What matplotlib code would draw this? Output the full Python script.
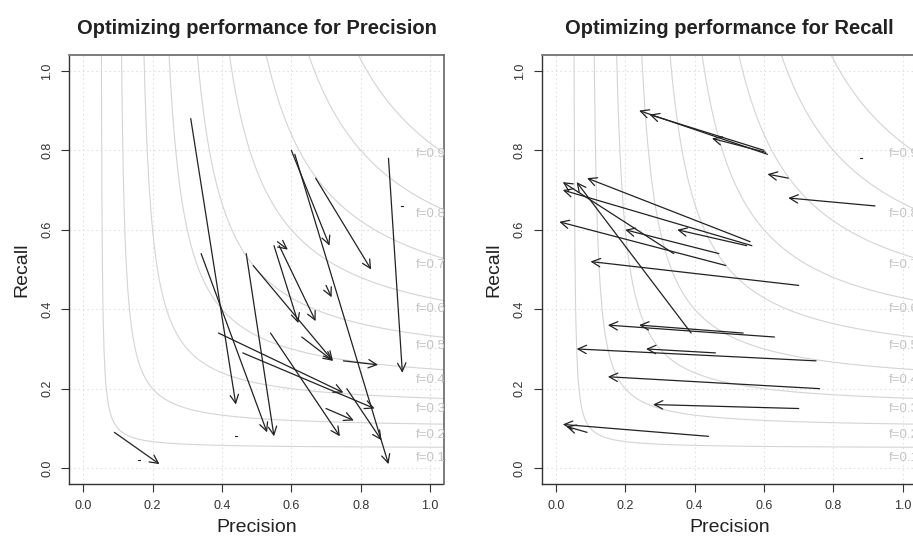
import numpy as np
import matplotlib
matplotlib.use("Agg")
import matplotlib.pyplot as plt

plt.rcParams['font.family'] = ['Liberation Sans', 'DejaVu Sans']

# arrows: start (precision, recall) -> end (precision, recall)
prec_x0 = [0.09, 0.16, 0.31, 0.34, 0.47, 0.49, 0.55, 0.56, 0.565, 0.60, 0.61, 0.67,
           0.88, 0.39, 0.46, 0.54, 0.63, 0.75, 0.70, 0.76, 0.44, 0.92, 0.70]
prec_y0 = [0.09, 0.02, 0.88, 0.54, 0.54, 0.51, 0.56, 0.57, 0.56, 0.80, 0.79, 0.73,
           0.78, 0.34, 0.29, 0.34, 0.33, 0.27, 0.15, 0.20, 0.08, 0.66, 0.46]
prec_x1 = [0.22, 0.16, 0.44, 0.53, 0.55, 0.72, 0.62, 0.59, 0.67, 0.71, 0.88, 0.83,
           0.92, 0.75, 0.84, 0.74, 0.72, 0.85, 0.78, 0.86, 0.44, 0.92, 0.716]
prec_y1 = [0.01, 0.02, 0.16, 0.09, 0.08, 0.27, 0.365, 0.55, 0.37, 0.56, 0.01, 0.50,
           0.24, 0.19, 0.15, 0.08, 0.27, 0.26, 0.12, 0.07, 0.08, 0.66, 0.43]

rec_x0 = [0.61, 0.60, 0.605, 0.67, 0.92, 0.88, 0.56, 0.565, 0.55, 0.34, 0.39, 0.49,
          0.47, 0.70, 0.63, 0.54, 0.75, 0.46, 0.76, 0.70, 0.44, 0.09]
rec_y0 = [0.79, 0.80, 0.795, 0.73, 0.66, 0.78, 0.57, 0.56, 0.56, 0.54, 0.34, 0.51,
          0.54, 0.46, 0.33, 0.34, 0.27, 0.29, 0.20, 0.15, 0.08, 0.09]
rec_x1 = [0.24, 0.27, 0.45, 0.61, 0.67, 0.88, 0.09, 0.02, 0.35, 0.02, 0.06, 0.01,
          0.20, 0.10, 0.15, 0.24, 0.06, 0.26, 0.15, 0.28, 0.02, 0.03]
rec_y1 = [0.90, 0.89, 0.83, 0.74, 0.68, 0.78, 0.73, 0.70, 0.60, 0.72, 0.72, 0.62,
          0.60, 0.52, 0.36, 0.36, 0.30, 0.30, 0.23, 0.16, 0.11, 0.105]

f_levels = [0.1, 0.2, 0.3, 0.4, 0.5, 0.6, 0.7, 0.8, 0.9]
ticks = [0.0, 0.2, 0.4, 0.6, 0.8, 1.0]

fig = plt.figure(figsize=(9.13, 5.37), dpi=100)
ax1 = fig.add_axes([0.0759, 0.0987, 0.4104, 0.7989])
# right panel runs past the right edge of the image, as in the original
ax2 = fig.add_axes([0.5936, 0.0987, 0.4104, 0.7989])


def draw_panel(ax, x0, y0, x1, y1, title):
    ax.set_xlim(-0.04, 1.04)
    ax.set_ylim(-0.04, 1.04)
    for t in ticks:
        ax.axvline(t, color='#e2e2e2', lw=0.8, ls=(0, (1.5, 2.5)), zorder=0)
        ax.axhline(t, color='#e2e2e2', lw=0.8, ls=(0, (1.5, 2.5)), zorder=0)
    for f in f_levels:
        p = np.linspace(f / 2 + 1e-4, 1.05, 800)
        r = f * p / (2 * p - f)
        ax.plot(p, r, color='#d4d4d4', lw=0.8, zorder=1)
        ax.text(0.96, f / (2 - f) - 0.027, 'f=%.1f' % f, color='#c4c4c4',
                fontsize=9.5, va='center', ha='left', clip_on=True)
    for a, b, c, d in zip(x0, y0, x1, y1):
        if a == c and b == d:
            ax.plot([a - 0.003, a + 0.003], [b, b], color='#222', lw=0.8)
            continue
        ax.annotate('', xy=(c, d), xytext=(a, b),
                    arrowprops=dict(arrowstyle='->,head_length=0.6,head_width=0.3',
                                    lw=0.9, color='#222', shrinkA=0, shrinkB=0))
    ax.set_xticks(ticks)
    ax.set_yticks(ticks)
    ax.set_xticklabels(['%.1f' % t for t in ticks])
    ax.set_yticklabels(['%.1f' % t for t in ticks], rotation=90, va='center')
    ax.tick_params(direction='out', length=5.5, width=0.8, colors='#333',
                   labelsize=9, pad=6)
    ax.set_xlabel('Precision', fontsize=14, color='#222', labelpad=5)
    ax.set_ylabel('Recall', fontsize=14, color='#222', labelpad=8)
    ax.set_title(title, fontsize=14.5, fontweight='bold', color='#222', pad=15)
    for s in ['top', 'right']:
        ax.spines[s].set_color('#666')
        ax.spines[s].set_linewidth(1.2)
    for s in ['left', 'bottom']:
        ax.spines[s].set_color('#333')
        ax.spines[s].set_linewidth(1.0)
        ax.spines[s].set_linestyle((0, (2, 1)))


draw_panel(ax1, prec_x0, prec_y0, prec_x1, prec_y1,
           'Optimizing performance for Precision')
draw_panel(ax2, rec_x0, rec_y0, rec_x1, rec_y1,
           'Optimizing performance for Recall')

fig.savefig('out.png', dpi=100)
